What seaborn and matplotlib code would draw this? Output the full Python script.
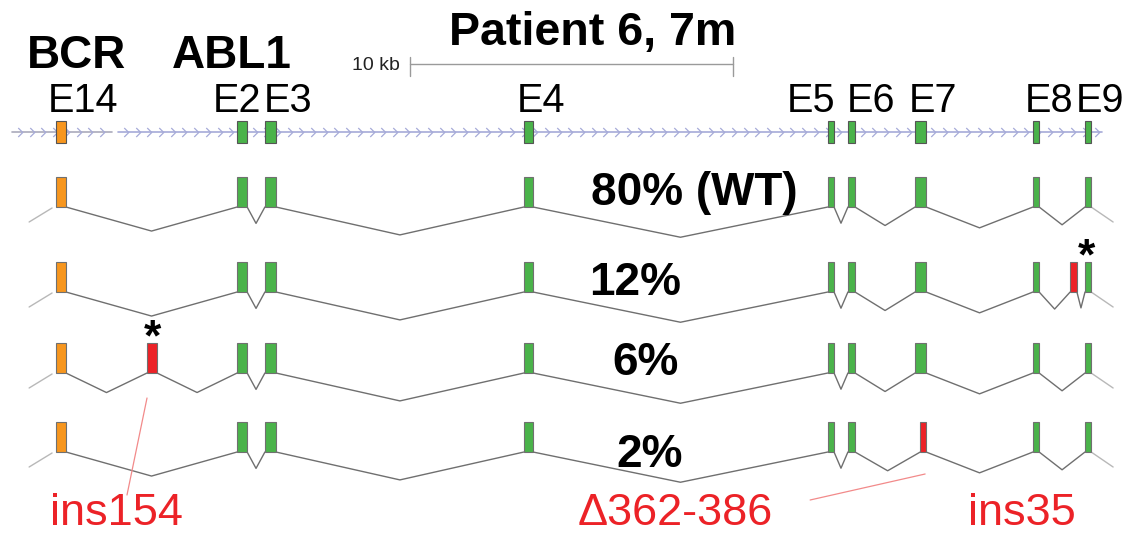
import matplotlib
matplotlib.use("Agg")
import matplotlib.pyplot as plt
from matplotlib.path import Path
import numpy as np
import pandas as pd
import seaborn as sns

# ---------------------------------------------------------------- data
# exon coordinates along the BCR-ABL1 fusion locus (kb from track start)
exon_names = ["E14", "E2", "E3", "E4", "E5", "E6", "E7", "E8", "E9"]
exon_gene = ["BCR", "ABL1", "ABL1", "ABL1", "ABL1", "ABL1", "ABL1", "ABL1", "ABL1"]
exon_start = [1.36, 6.97, 7.83, 15.85, 25.26, 25.88, 27.96, 31.61, 33.22]
exon_end = [1.67, 7.28, 8.17, 16.13, 25.45, 26.10, 28.30, 31.80, 33.41]
exon_label_x = [2.20, 6.97, 8.54, 16.38, 24.74, 26.59, 28.51, 32.11, 33.68]

# gene body extents on the reference track (kb)
bcr_span = [0.0, 3.10]
abl1_span = [3.28, 33.75]

# aberrant exons found in minor isoforms (kb)
ins154_exon = [4.18, 4.49]
ins35_exon = [32.76, 32.97]
del_e7_exon = [28.12, 28.30]

# isoforms and their read fractions
isoform_labels = ["80% (WT)", "12%", "6%", "2%"]
isoform_pct = [80, 12, 6, 2]

scale_bar_kb = 10
title = "Patient 6, 7m"

# ---------------------------------------------------------------- style
sns.set_theme(style="white")
plt.rcParams["font.family"] = ["Liberation Sans", "DejaVu Sans"]
plt.rcParams["text.color"] = "black"

COL_BCR = "#f7961e"
COL_ABL = "#4ab34a"
COL_INS = "#ec2227"
COL_EDGE = "#707070"
COL_TRACK = "#a6aad8"
COL_INTRON = "#6f6f6f"
COL_FLANK = "#b8b8b8"
COL_NOTE = "#ec2227"

KB_PX = 32.3
fig = plt.figure(figsize=(11.28, 5.36), dpi=100)
ax = fig.add_axes([0, 0, 1, 1])

# vertical layout (pixels from top)
TRACK_Y = 132
TRACK_H = 22
ROW_BOTTOM = [207, 292, 373, 452]
EXON_H = 30


def gene_color(g):
    return COL_BCR if g == "BCR" else COL_ABL


# ---------------------------------------------------------------- reference track
chevron = Path([(-0.5, 1.0), (0.5, 0.0), (-0.5, -1.0)],
               [Path.MOVETO, Path.LINETO, Path.LINETO])
for (s, e), col in [(bcr_span, "#aaaabb"), (abl1_span, COL_TRACK)]:
    ax.plot([s, e], [TRACK_Y, TRACK_Y], color=col, lw=1.2, zorder=1)
    xs = np.arange(s + 0.25, e - 0.1, 0.362)
    ax.plot(xs, np.full_like(xs, TRACK_Y), ls="none", marker=chevron,
            markersize=6.5, markerfacecolor="none", markeredgecolor=COL_TRACK,
            markeredgewidth=0.9, zorder=1)

ax.bar(exon_start, TRACK_H, width=np.subtract(exon_end, exon_start),
       bottom=TRACK_Y - TRACK_H / 2, align="edge",
       color=[gene_color(g) for g in exon_gene], edgecolor="#555555",
       linewidth=0.8, zorder=3)

for name, lx in zip(exon_names, exon_label_x):
    ax.text(lx, 112, name, ha="center", va="baseline", fontsize=28.5)

ax.text(2.01, 68, "BCR", ha="center", va="baseline", fontsize=33, fontweight="bold")
ax.text(6.81, 68, "ABL1", ha="center", va="baseline", fontsize=33, fontweight="bold")
ax.text(17.97, 45, title, ha="center", va="baseline", fontsize=33.5, fontweight="bold")

# 10 kb scale bar
sb0 = 12.32
ax.plot([sb0, sb0 + scale_bar_kb], [64, 64], color="#9a9a9a", lw=1.0)
for xb in (sb0, sb0 + scale_bar_kb):
    ax.plot([xb, xb], [57, 76], color="#9a9a9a", lw=1.0)
ax.text(sb0 - 0.3, 66, "10 kb", ha="right", va="center", fontsize=14, color="#222222")

# ---------------------------------------------------------------- isoforms
base = [(s, e, gene_color(g)) for s, e, g in zip(exon_start, exon_end, exon_gene)]
iso_exons = [
    base,
    sorted(base + [(ins35_exon[0], ins35_exon[1], COL_INS)]),
    sorted(base + [(ins154_exon[0], ins154_exon[1], COL_INS)]),
    [b if i != 6 else (del_e7_exon[0], del_e7_exon[1], COL_INS) for i, b in enumerate(base)],
]

rows = []
for r, exons in enumerate(iso_exons):
    yb = ROW_BOTTOM[r]
    # splice junction arcs: exon end -> valley -> next exon start
    for (s1, e1, _), (s2, e2, _) in zip(exons[:-1], exons[1:]):
        gap_px = (s2 - e1) * KB_PX
        depth = 15.5 + 0.05 * gap_px
        for k, (x, y) in enumerate([(e1, yb), ((e1 + s2) / 2, yb + depth), (s2, yb)]):
            rows.append({"x": x, "y": y, "path": f"{r}-{e1}", "order": k})
    ax.bar([s for s, e, c in exons], EXON_H, width=[e - s for s, e, c in exons],
           bottom=yb - EXON_H, align="edge", color=[c for s, e, c in exons],
           edgecolor=COL_EDGE, linewidth=0.8, zorder=3)
    # flanking sequence
    ax.plot([0.53, 1.24], [yb + 15, yb + 1], color=COL_FLANK, lw=1.0, zorder=2)
    ax.plot([exons[-1][1], 34.09], [yb, yb + 15], color=COL_FLANK, lw=1.0, zorder=2)

junctions = pd.DataFrame(rows)
sns.lineplot(data=junctions, x="x", y="y", units="path", estimator=None, sort=False,
             color=COL_INTRON, lw=1.0, ax=ax, legend=False, zorder=2)

label_x = [21.11, 19.29, 19.60, 19.75]
label_y = [205, 295, 375, 467]
for lab, lx, ly in zip(isoform_labels, label_x, label_y):
    ax.text(lx, ly, lab, ha="center", va="baseline", fontsize=33, fontweight="bold", zorder=4)

# mutation markers
ax.text(np.mean(ins154_exon), 350, "*", ha="center", va="baseline", fontsize=32,
        fontweight="bold", zorder=4)
ax.text(33.25, 269, "*", ha="center", va="baseline", fontsize=32,
        fontweight="bold", zorder=4)

# annotations
ax.plot([4.18, 3.56], [398, 495], color="#f28a8a", lw=0.9)
ax.plot([24.71, 28.27], [500, 474], color="#f28a8a", lw=0.9)
ax.text(3.22, 525, "ins154", ha="center", va="baseline", fontsize=32.5, color=COL_NOTE)
ax.text(20.53, 525, "\u0394362-386", ha="center", va="baseline", fontsize=32.5, color=COL_NOTE)
ax.text(31.27, 525, "ins35", ha="center", va="baseline", fontsize=32.5, color=COL_NOTE)

ax.set_xlim(-12 / KB_PX, 1116 / KB_PX)
ax.set_ylim(536, 0)
ax.axis("off")

fig.savefig("out.png", dpi=100, facecolor="white")
